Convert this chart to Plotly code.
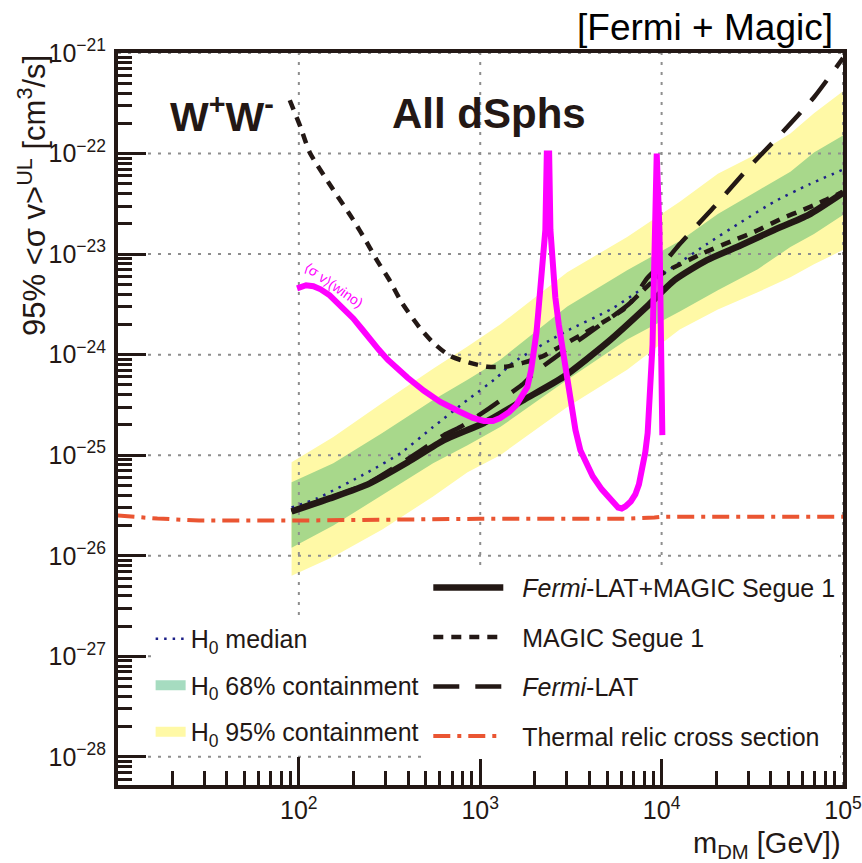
import plotly.graph_objects as go

# ---------------- data ----------------
# x values: log10(m_DM / GeV); y values: log10(<sigma v> / cm^3 s^-1)

band_logm = [1.96, 2.19, 2.46, 2.74, 2.93, 3.11, 3.48, 3.81, 4.10, 4.31, 4.53, 4.71, 4.84, 5.00]
band95_hi = [-25.07, -24.82, -24.48, -24.14, -23.92, -23.70, -23.18, -22.83, -22.48, -22.20, -22.00, -21.80, -21.60, -21.38]
band68_hi = [-25.27, -25.08, -24.78, -24.45, -24.25, -24.05, -23.52, -23.16, -22.87, -22.60, -22.37, -22.18, -21.99, -21.82]
band68_lo = [-25.92, -25.70, -25.40, -25.08, -24.90, -24.72, -24.25, -23.85, -23.57, -23.36, -23.15, -22.93, -22.80, -22.61]
band95_lo = [-26.20, -26.01, -25.74, -25.41, -25.17, -25.00, -24.52, -24.15, -23.75, -23.55, -23.38, -23.23, -23.10, -22.96]

median_logm = [1.96, 2.10, 2.38, 2.56, 2.74, 2.93, 3.09, 3.18, 3.46, 3.72, 3.88, 4.07, 4.25, 4.44, 4.62, 4.81, 5.00]
median_logsv = [-25.52, -25.43, -25.17, -24.98, -24.72, -24.45, -24.23, -24.08, -23.78, -23.55, -23.36, -23.12, -22.90, -22.68, -22.48, -22.31, -22.16]

comb_logm = [1.96, 2.17, 2.38, 2.60, 2.80, 3.02, 3.24, 3.46, 3.70, 3.92, 4.07, 4.25, 4.44, 4.62, 4.81, 5.00]
comb_logsv = [-25.56, -25.43, -25.29, -25.07, -24.85, -24.68, -24.45, -24.22, -23.88, -23.52, -23.26, -23.06, -22.91, -22.76, -22.61, -22.39]

fermi_logm = [1.96, 2.38, 2.65, 2.80, 2.89, 3.02, 3.10, 3.23, 3.30, 3.51, 3.65, 3.83, 3.92, 4.03, 4.10, 4.29, 4.47, 4.66, 4.84, 5.00]
fermi_logsv = [-25.56, -25.28, -24.98, -24.80, -24.72, -24.57, -24.47, -24.30, -24.18, -23.90, -23.72, -23.48, -23.24, -23.05, -22.90, -22.53, -22.16, -21.80, -21.44, -21.05]

magic_logm = [1.95, 2.01, 2.06, 2.19, 2.30, 2.38, 2.43, 2.50, 2.57, 2.67, 2.74, 2.83, 2.94, 3.04, 3.14,
              3.24, 3.34, 3.44, 3.58, 3.72, 3.79, 3.87, 3.99, 4.23, 4.40, 4.51, 4.67, 4.78, 4.87, 5.00]
magic_logsv = [-21.47, -21.74, -21.99, -22.36, -22.66, -22.90, -23.06, -23.26, -23.49, -23.74, -23.88, -24.01, -24.08, -24.12, -24.12,
               -24.08, -24.02, -23.92, -23.78, -23.63, -23.55, -23.41, -23.21, -22.99, -22.86, -22.78, -22.64, -22.56, -22.49, -22.38]

thermal_logm = [1.00, 1.22, 1.45, 1.70, 2.00, 3.00, 3.80, 3.96, 4.00, 5.00]
thermal_logsv = [-25.60, -25.63, -25.65, -25.652, -25.65, -25.632, -25.632, -25.62, -25.612, -25.612]

wino_logm = [1.99, 2.04, 2.08, 2.12, 2.17, 2.21, 2.26, 2.30, 2.35, 2.39, 2.44, 2.49, 2.55, 2.60, 2.69, 2.78,
             2.89, 2.96, 3.02, 3.07, 3.11, 3.16, 3.20, 3.23, 3.26, 3.28, 3.293, 3.31, 3.32, 3.332, 3.342,
             3.352, 3.359, 3.367, 3.380, 3.387, 3.40, 3.414, 3.433, 3.453, 3.486, 3.525, 3.552, 3.58, 3.62,
             3.67, 3.71, 3.74, 3.76, 3.78, 3.80, 3.83, 3.855, 3.875, 3.895, 3.91, 3.923, 3.94, 3.95, 3.957,
             3.962, 3.965, 3.973, 3.988, 3.995, 4.000, 4.004]
wino_logsv = [-23.34, -23.31, -23.32, -23.35, -23.41, -23.48, -23.56, -23.64, -23.75, -23.85, -23.95, -24.05, -24.15, -24.23, -24.36, -24.47,
              -24.57, -24.63, -24.66, -24.66, -24.63, -24.57, -24.50, -24.42, -24.32, -24.16, -24.02, -23.78, -23.58, -23.33, -23.09,
              -22.90, -22.76, -22.00, -22.00, -22.76, -23.12, -23.43, -23.70, -23.92, -24.32, -24.75, -24.95, -25.07, -25.21,
              -25.34, -25.43, -25.49, -25.52, -25.53, -25.51, -25.46, -25.39, -25.29, -25.13, -24.97, -24.78, -24.35, -23.90, -23.30,
              -22.60, -22.00, -22.00, -22.76, -23.60, -24.30, -24.80]

# axes (log10 units) and tick labels
x_range_log = [1.003, 5.0]
y_range_log = [-28.28, -21.0]
x_tick_exp = [2, 3, 4, 5]
x_tick_text = ['10<sup>2</sup>', '10<sup>3</sup>', '10<sup>4</sup>', '10<sup>5</sup>']
y_tick_exp = [-28, -27, -26, -25, -24, -23, -22, -21]
y_tick_text = ['10<sup>−28</sup>', '10<sup>−27</sup>', '10<sup>−26</sup>', '10<sup>−25</sup>',
               '10<sup>−24</sup>', '10<sup>−23</sup>', '10<sup>−22</sup>', '10<sup>−21</sup>']

# ---------------- styling ----------------
BLACK = '#231815'
FONT = 'Liberation Sans, Arial, Helvetica, sans-serif'
YELLOW = '#fff9a6'
GREEN = '#a8d88b'
MINT = '#a6dcc0'
ORANGE = '#ea5532'
NAVY = '#1d2088'
MAGENTA = '#ff00ff'
GRID = '#8e8e8e'
PAD = '\u00a0\u00a0'


def p10(v):
    return [None if a is None else 10 ** a for a in v]


fig = go.Figure()

# bands
fig.add_trace(go.Scatter(
    x=p10(band_logm + band_logm[::-1]), y=p10(band95_hi + band95_lo[::-1]),
    fill='toself', fillcolor=YELLOW, mode='lines', line=dict(width=0),
    showlegend=False, hoverinfo='skip'))
fig.add_trace(go.Scatter(
    x=p10(band_logm + band_logm[::-1]), y=p10(band68_hi + band68_lo[::-1]),
    fill='toself', fillcolor=GREEN, mode='lines', line=dict(width=0),
    showlegend=False, hoverinfo='skip'))

# grid drawn over the bands
gx, gy = [], []
for e in x_tick_exp:
    gx += [10 ** e, 10 ** e, None]
    gy += [10 ** y_range_log[0], 10 ** y_range_log[1], None]
for e in y_tick_exp:
    gx += [10 ** x_range_log[0], 10 ** x_range_log[1], None]
    gy += [10 ** e, 10 ** e, None]
fig.add_trace(go.Scatter(x=gx, y=gy, mode='lines', line=dict(color=GRID, width=2, dash='3px,7px'),
                         showlegend=False, hoverinfo='skip'))

# curves
fig.add_trace(go.Scatter(x=p10(thermal_logm), y=p10(thermal_logsv), mode='lines',
                         line=dict(color=ORANGE, width=4, dash='17px,7px,4px,7px'),
                         name=PAD + 'Thermal relic cross section', legend='legend2',
                         legendgroup='th', legendrank=4))
fig.add_trace(go.Scatter(x=p10(median_logm), y=p10(median_logsv), mode='lines',
                         line=dict(color=NAVY, width=2.5, dash='2.5px,6px', shape='spline', smoothing=0.6),
                         name='H<sub>0</sub> median', legend='legend', legendgroup='med', legendrank=1))
fig.add_trace(go.Scatter(x=p10(magic_logm), y=p10(magic_logsv), mode='lines',
                         line=dict(color=BLACK, width=4.5, dash='10px,8px', shape='spline', smoothing=0.6),
                         name=PAD + 'MAGIC Segue 1', legend='legend2', legendgroup='mag', legendrank=2))
fig.add_trace(go.Scatter(x=p10(fermi_logm), y=p10(fermi_logsv), mode='lines',
                         line=dict(color=BLACK, width=4.5, dash='26px,16px', shape='spline', smoothing=0.6),
                         name=PAD + '<i>Fermi</i>-LAT', legend='legend2', legendgroup='fer', legendrank=3))
fig.add_trace(go.Scatter(x=p10(comb_logm), y=p10(comb_logsv), mode='lines',
                         line=dict(color=BLACK, width=6.5, shape='spline', smoothing=0.6),
                         name=PAD + '<i>Fermi</i>-LAT+MAGIC Segue 1', legend='legend2', legendgroup='comb',
                         legendrank=1))
fig.add_trace(go.Scatter(x=p10(wino_logm), y=p10(wino_logsv), mode='lines',
                         line=dict(color=MAGENTA, width=6), showlegend=False, hoverinfo='skip'))

# legend swatches for the bands (thick line segments act as boxes)
fig.add_trace(go.Scatter(x=[None], y=[None], mode='lines', line=dict(color=MINT, width=28),
                         name='H<sub>0</sub> 68% containment',
                         legend='legend', legendgroup='b68', legendrank=2))
fig.add_trace(go.Scatter(x=[None], y=[None], mode='lines', line=dict(color=YELLOW, width=28),
                         name='H<sub>0</sub> 95% containment',
                         legend='legend', legendgroup='b95', legendrank=3))

axis_common = dict(
    type='log', showgrid=False, zeroline=False, automargin=False,
    showline=True, linecolor=BLACK, linewidth=4, mirror=True,
    ticks='inside', ticklen=28, tickwidth=3, tickcolor=BLACK,
    tickmode='array',
    minor=dict(ticks='inside', ticklen=14, tickwidth=2.5, tickcolor=BLACK,
               tickmode='linear', dtick='D1', showgrid=False),
    tickfont=dict(family=FONT, size=25, color=BLACK),
    layer='above traces', ticklabeloverflow='allow',
)

fig.update_layout(
    width=862, height=863,
    margin=dict(l=118, r=19, t=53, b=78, autoexpand=False),
    paper_bgcolor='white', plot_bgcolor='white',
    font=dict(family=FONT, color=BLACK),
    xaxis=dict(range=x_range_log, tickvals=p10(x_tick_exp), ticktext=x_tick_text, **axis_common),
    yaxis=dict(range=y_range_log, tickvals=p10(y_tick_exp), ticktext=y_tick_text,
               ticklabelstandoff=3, **axis_common),
    legend=dict(x=0.045, y=0.231, xanchor='left', yanchor='top', bgcolor='white', borderwidth=0,
                font=dict(family=FONT, size=25, color=BLACK), traceorder='grouped',
                tracegroupgap=11, itemwidth=30),
    legend2=dict(x=0.428, y=0.301, xanchor='left', yanchor='top', bgcolor='white', borderwidth=0,
                 font=dict(family=FONT, size=25, color=BLACK), traceorder='grouped',
                 tracegroupgap=14, itemwidth=70),
    showlegend=True,
)

ann = [
    dict(text='[Fermi + Magic]', x=0.989, y=1.0355, xref='paper', yref='paper',
         xanchor='right', yanchor='middle', showarrow=False, font=dict(size=37, color='black')),
    dict(text='<b>W<sup>+</sup>W<sup>-</sup></b>', x=0.069, y=0.917, xref='paper', yref='paper',
         xanchor='left', yanchor='middle', showarrow=False, font=dict(size=41, color=BLACK)),
    dict(text='<b>All dSphs</b>', x=0.375, y=0.917, xref='paper', yref='paper',
         xanchor='left', yanchor='middle', showarrow=False, font=dict(size=42, color=BLACK)),
    dict(text='95% &lt;σ v&gt;<sup>UL</sup> [cm<sup>3</sup>/s]', x=-0.089, y=1.0, xref='paper', yref='paper',
         xanchor='right', yanchor='top', textangle=-90, showarrow=False, font=dict(size=31, color=BLACK)),
    dict(text='m<sub>DM</sub> [GeV])', x=1.0, y=-0.082, xref='paper', yref='paper',
         xanchor='right', yanchor='middle', showarrow=False, font=dict(size=29, color=BLACK)),
    dict(text='⟨σ v⟩(wino)', x=0.298, y=0.683, xref='paper', yref='paper', textangle=35,
         xanchor='center', yanchor='middle', showarrow=False, font=dict(size=14, color=MAGENTA)),
]
fig.update_layout(annotations=ann)

fig.write_html('out.html')
